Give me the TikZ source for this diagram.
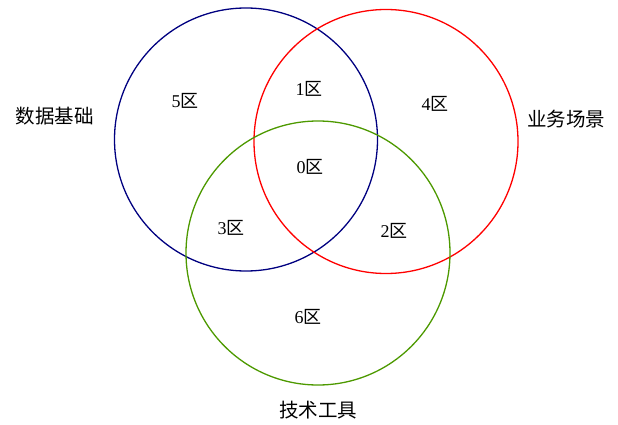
\documentclass[tikz,border=0pt]{standalone}
\usepackage{fontspec}
\setmainfont{Liberation Serif}
\newfontfamily\cjk{Noto Sans CJK SC}
\definecolor{cblue}{RGB}{0,0,128}
\definecolor{cred}{RGB}{255,0,0}
\definecolor{cgreen}{RGB}{77,153,0}
\begin{document}
\begin{tikzpicture}[x=1pt,y=-1pt,
  ring/.style={draw,line width=1.3pt},
  lab/.style={font=\fontsize{18}{18}\selectfont,text=black,inner sep=0pt},
  side/.style={font=\cjk\fontsize{19.5}{20}\selectfont,text=black,inner sep=0pt}]
\useasboundingbox (0,0) rectangle (618,425);
\draw[ring,cblue] (246,139.5) circle (131.5);
\draw[ring,cred] (386,141.5) circle (132);
\draw[ring,cgreen] (318,253) circle (132);
\node[side] (data) at (55,116) {数据基础};
\node[side] (biz) at (566,119) {业务场景};
\node[side] (tech) at (318,410) {技术工具};
\node[lab] (z5) at (185,101) {5{\cjk 区}};
\node[lab] (z1) at (309,89) {1{\cjk 区}};
\node[lab] (z4) at (435,104) {4{\cjk 区}};
\node[lab] (z0) at (310,167) {0{\cjk 区}};
\node[lab] (z3) at (231,228) {3{\cjk 区}};
\node[lab] (z2) at (394,231) {2{\cjk 区}};
\node[lab] (z6) at (308,317) {6{\cjk 区}};
\end{tikzpicture}
\end{document}
